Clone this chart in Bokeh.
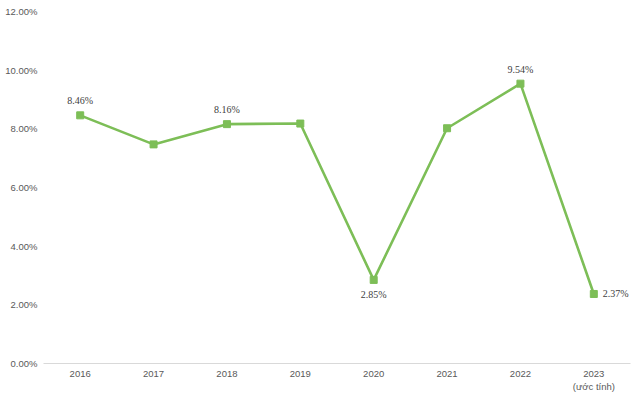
from bokeh.plotting import figure
from bokeh.models import ColumnDataSource, FixedTicker, PrintfTickFormatter, Range1d, LabelSet
from bokeh.embed import file_html
from bokeh.resources import INLINE

years = ["2016", "2017", "2018", "2019", "2020", "2021", "2022", "2023\n(ước tính)"]
growth = [8.46, 7.47, 8.16, 8.18, 2.85, 8.02, 9.54, 2.37]
labels = ["8.46%", "", "8.16%", "", "2.85%", "", "9.54%", "2.37%"]
y_ticks = [0, 2, 4, 6, 8, 10, 12]

xs = list(range(len(years)))
GREEN = "#7DBE57"
GRAY = "#595959"
FONT = "Liberation Sans"

p = figure(width=640, height=402, output_backend="svg", toolbar_location=None,
           x_range=Range1d(-0.5, len(years) - 0.5), y_range=Range1d(0, 12))
p.min_border_left = 43
p.min_border_right = 10
p.min_border_top = 11
p.min_border_bottom = 39
p.outline_line_color = None
p.xgrid.grid_line_color = None
p.ygrid.grid_line_color = None

src = ColumnDataSource(dict(x=xs, y=growth, lab=labels))
p.line("x", "y", source=src, line_color=GREEN, line_width=2.6)
p.scatter("x", "y", source=src, marker="square", size=7, fill_color=GREEN, line_color=GREEN)

above_idx = [0, 2, 6]
below_idx = [4]
right_idx = [7]
def sub(idx):
    return ColumnDataSource(dict(x=[xs[i] for i in idx], y=[growth[i] for i in idx], lab=[labels[i] for i in idx]))

for idx, kw in [(above_idx, dict(y_offset=9, text_align="center", text_baseline="bottom")),
                (below_idx, dict(y_offset=-9, text_align="center", text_baseline="top")),
                (right_idx, dict(x_offset=9, text_align="left", text_baseline="middle"))]:
    ls = LabelSet(x="x", y="y", text="lab", source=sub(idx), text_font=FONT,
                  text_font_size="10px", text_color="#404040", **kw)
    p.add_layout(ls)

p.yaxis.ticker = FixedTicker(ticks=y_ticks)
p.yaxis.formatter = PrintfTickFormatter(format="%.2f%%")
p.yaxis.axis_line_color = None
p.yaxis.major_tick_line_color = None
p.yaxis.minor_tick_line_color = None
p.yaxis.major_tick_out = 0
p.yaxis.major_tick_in = 0
p.yaxis.major_label_text_font = FONT
p.yaxis.major_label_text_font_size = "9.5px"
p.yaxis.major_label_text_color = GRAY
p.yaxis.major_label_standoff = 6

p.xaxis.ticker = FixedTicker(ticks=xs)
p.xaxis.major_label_overrides = {i: years[i] for i in xs}
p.xaxis.axis_line_color = "#D9D9D9"
p.xaxis.axis_line_width = 1
p.xaxis.major_tick_line_color = None
p.xaxis.minor_tick_line_color = None
p.xaxis.major_tick_out = 0
p.xaxis.major_tick_in = 0
p.xaxis.major_label_text_font = FONT
p.xaxis.major_label_text_font_size = "9.5px"
p.xaxis.major_label_text_color = GRAY
p.xaxis.major_label_standoff = 4

open("out.html", "w").write(file_html(p, INLINE))
